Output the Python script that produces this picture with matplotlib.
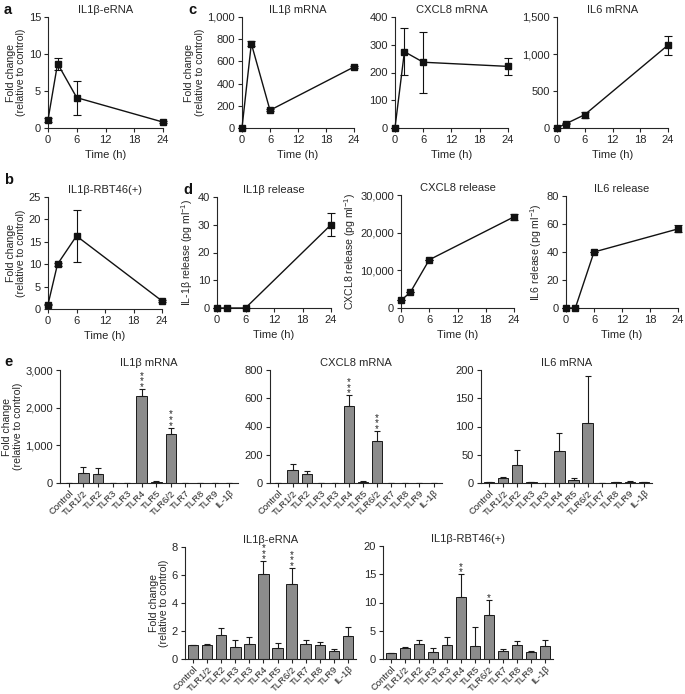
import matplotlib
matplotlib.use("Agg")
import matplotlib.pyplot as plt
from matplotlib.ticker import FuncFormatter
import numpy as np

plt.rcParams['font.family'] = ['Liberation Sans', 'DejaVu Sans']
plt.rcParams['mathtext.default'] = 'regular'
FS = 8.0
YFS = 7.6
plt.rcParams['font.size'] = FS

TXT = '#262626'

# time course data
time_h = [0, 2, 6, 24]
eRNA_time = [1.1, 8.7, 4.1, 0.8]
eRNA_time_err = [0.3, 0.8, 2.3, 0.1]
rbt46_time = [1.0, 10.0, 16.3, 1.8]
rbt46_time_err = [0.2, 0.3, 5.9, 0.2]
il1b_mrna_time = [1, 760, 160, 550]
il1b_mrna_time_err = [0, 20, 10, 10]
cxcl8_mrna_time = [1, 275, 237, 222]
cxcl8_mrna_time_err = [0, 85, 110, 30]
il6_mrna_time = [1, 60, 180, 1120]
il6_mrna_time_err = [0, 10, 40, 130]
il1b_rel = [0, 0, 0, 30]
il1b_rel_err = [0, 0, 0, 4.2]
cxcl8_rel = [2000, 4200, 12800, 24200]
cxcl8_rel_err = [0, 0, 0, 800]
il6_rel = [0, 0, 40, 56.5]
il6_rel_err = [0, 0, 0, 2.5]

# TLR ligand data
tlr_labels = ['Control', 'TLR1/2', 'TLR2', 'TLR3', 'TLR3', 'TLR4', 'TLR5',
              'TLR6/2', 'TLR7', 'TLR8', 'TLR9', 'IL-1β']
e_il1b = [1, 260, 250, 0, 0, 2300, 30, 1300, 0, 0, 0, 10]
e_il1b_err = [0, 160, 150, 0, 0, 200, 10, 170, 0, 0, 0, 3]
e_cxcl8 = [1, 90, 66, 0, 0, 545, 10, 298, 0, 0, 2, 2]
e_cxcl8_err = [0, 47, 17, 0, 0, 75, 3, 71, 0, 0, 1, 1]
e_il6 = [1, 8, 32, 1, 0.5, 56, 5, 106, 0.5, 1, 2, 1]
e_il6_err = [0, 3, 27, 0, 0, 32, 3, 84, 0, 0, 1, 0.5]
e_eRNA = [1.0, 1.0, 1.7, 0.83, 1.07, 6.04, 0.76, 5.33, 1.09, 0.97, 0.6, 1.66]
e_eRNA_err = [0, 0.07, 0.55, 0.5, 0.47, 0.94, 0.38, 1.18, 0.24, 0.26, 0.1, 0.6]
e_rbt = [1.0, 1.94, 2.65, 1.3, 2.5, 11.06, 2.35, 7.8, 1.4, 2.5, 1.2, 2.24]
e_rbt_err = [0, 0.1, 0.75, 0.65, 1.4, 3.9, 3.4, 2.65, 0.4, 0.7, 0.3, 1.06]

W, H = 685, 694
fig = plt.figure(figsize=(W / 100, H / 100), dpi=100)


def add_ax(left, right, top, bottom):
    return fig.add_axes([left / W, 1 - bottom / H, (right - left) / W, (bottom - top) / H])


def style(ax):
    for s in ['top', 'right']:
        ax.spines[s].set_visible(False)
    for s in ['left', 'bottom']:
        ax.spines[s].set_color(TXT)
        ax.spines[s].set_linewidth(0.8)
    ax.tick_params(direction='out', length=3, width=0.8, colors=TXT, labelsize=FS, pad=2)


comma = FuncFormatter(lambda v, p: '{:,.0f}'.format(v))
fold_lbl = 'Fold change\n(relative to control)'


def set_ylab(ax, ylabel):
    ax.set_ylabel(ylabel, color=TXT, fontsize=YFS, labelpad=2, linespacing=1.05)


def time_panel(box, y, err, title, ymax, ystep, ylabel=None):
    ax = add_ax(*box)
    style(ax)
    ax.errorbar(time_h, y, yerr=err, color='#111111', marker='s', ms=4.8, lw=1,
                capsize=3, elinewidth=0.8, capthick=0.8, clip_on=False, zorder=3)
    ax.set_xlim(0, 24)
    ax.set_ylim(0, ymax)
    ax.set_xticks([0, 6, 12, 18, 24])
    ax.set_yticks(np.arange(0, ymax + ystep / 2, ystep))
    ax.yaxis.set_major_formatter(comma)
    ax.set_xlabel('Time (h)', color=TXT, fontsize=FS, labelpad=4)
    ax.set_title(title, color=TXT, fontsize=FS, pad=3)
    if ylabel:
        set_ylab(ax, ylabel)
    return ax


def bar_panel(box, y, err, title, ymax, ystep, stars=None, ylabel=None):
    ax = add_ax(*box)
    style(ax)
    x = np.arange(len(tlr_labels))
    ax.bar(x, y, width=0.72, color='#8c8c8c', edgecolor='#1a1a1a', linewidth=0.7, zorder=2)
    ax.errorbar(x, y, yerr=[np.zeros(len(y)), err], fmt='none', ecolor='#1a1a1a',
                elinewidth=0.8, capsize=2.5, capthick=0.8, zorder=3)
    ax.set_xlim(-0.6, 11.6)
    ax.set_ylim(0, ymax)
    ax.set_xticks(x)
    ax.set_xticklabels(tlr_labels, rotation=45, ha='right', rotation_mode='anchor')
    ax.tick_params(axis='x', labelsize=6.8, pad=1)
    ax.set_yticks(np.arange(0, ymax + ystep / 2, ystep))
    ax.yaxis.set_major_formatter(comma)
    ax.set_title(title, color=TXT, fontsize=FS, pad=3)
    if ylabel:
        set_ylab(ax, ylabel)
    if stars:
        for i, n in stars.items():
            ax.annotate('\n'.join(['*'] * n), (i, y[i] + err[i]), xytext=(0, -1),
                        textcoords='offset pixels', ha='center', va='baseline',
                        fontsize=7, linespacing=0.45, color=TXT)
    return ax


# row 1
time_panel((48, 163, 17, 128), eRNA_time, eRNA_time_err, 'IL1β-eRNA', 15, 5, fold_lbl)
time_panel((242, 354, 17, 128), il1b_mrna_time, il1b_mrna_time_err, 'IL1β mRNA', 1000, 200, fold_lbl)
time_panel((395, 508, 17, 128), cxcl8_mrna_time, cxcl8_mrna_time_err, 'CXCL8 mRNA', 400, 100)
time_panel((557, 668, 17, 128), il6_mrna_time, il6_mrna_time_err, 'IL6 mRNA', 1500, 500)

# row 2
time_panel((48, 162, 197, 309), rbt46_time, rbt46_time_err, 'IL1β-RBT46(+)', 25, 5, fold_lbl)
time_panel((217, 331, 197, 308), il1b_rel, il1b_rel_err, 'IL1β release', 40, 10,
           r'IL-1β release (pg ml$^{-1}$)')
time_panel((401, 514, 195, 308), cxcl8_rel, cxcl8_rel_err, 'CXCL8 release', 30000, 10000,
           r'CXCL8 release (pg ml$^{-1}$)')
time_panel((566, 678, 196, 308), il6_rel, il6_rel_err, 'IL6 release', 80, 20,
           r'IL6 release (pg ml$^{-1}$)')

# row 3
bar_panel((60, 238, 370, 483), e_il1b, e_il1b_err, 'IL1β mRNA', 3000, 1000, {5: 3, 7: 3}, fold_lbl)
bar_panel((270, 442, 370, 483), e_cxcl8, e_cxcl8_err, 'CXCL8 mRNA', 800, 200, {5: 3, 7: 3})
bar_panel((481, 652, 370, 483), e_il6, e_il6_err, 'IL6 mRNA', 200, 50)

# row 4
bar_panel((185, 356, 547, 659), e_eRNA, e_eRNA_err, 'IL1β-eRNA', 8, 2, {5: 3, 7: 3}, fold_lbl)
bar_panel((383, 553, 546, 659), e_rbt, e_rbt_err, 'IL1β-RBT46(+)', 20, 5, {5: 2, 7: 1})

# panel letters
for letter, (px, py) in {'a': (4, 10), 'c': (188, 10), 'b': (4, 180),
                         'd': (183, 190), 'e': (4, 362)}.items():
    fig.text(px / W, 1 - py / H, letter, fontsize=10.5, fontweight='bold', color='#111111',
             ha='left', va='center')

fig.savefig('out.png', dpi=100)
